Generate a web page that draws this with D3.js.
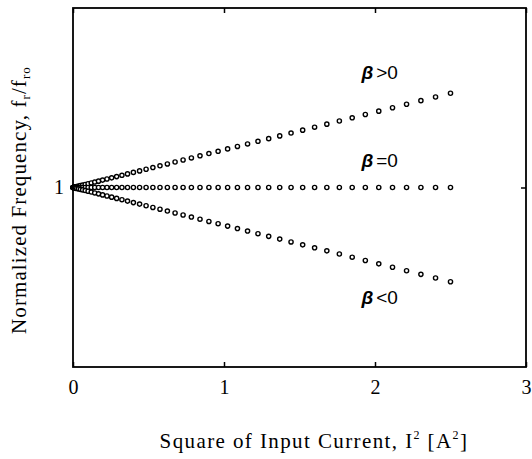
<!DOCTYPE html>
<html><head><meta charset="utf-8">
<script src="https://cdn.jsdelivr.net/npm/d3@7"></script>
<style>body{margin:0;background:#fff}svg{display:block}</style>
</head><body>
<script>
// Square of input current I^2 [A^2]
const xValues = [0, 0.001, 0.004, 0.009, 0.016, 0.025, 0.036, 0.049, 0.064, 0.081, 0.100, 0.121, 0.144, 0.169, 0.196, 0.225, 0.256, 0.289, 0.324, 0.361, 0.400, 0.441, 0.484, 0.529, 0.576, 0.625, 0.676, 0.729, 0.784, 0.841, 0.900, 0.961, 1.024, 1.089, 1.156, 1.225, 1.296, 1.369, 1.444, 1.521, 1.600, 1.681, 1.764, 1.849, 1.936, 2.025, 2.116, 2.209, 2.304, 2.401, 2.500];
const betaPos = [1, 1.00004, 1.00017, 1.00038, 1.00067, 1.00105, 1.00151, 1.00206, 1.00269, 1.00340, 1.00420, 1.00508, 1.00605, 1.00710, 1.00823, 1.00945, 1.01075, 1.01214, 1.01361, 1.01516, 1.01680, 1.01852, 1.02033, 1.02222, 1.02419, 1.02625, 1.02839, 1.03062, 1.03293, 1.03532, 1.03780, 1.04036, 1.04301, 1.04574, 1.04855, 1.05145, 1.05443, 1.05750, 1.06065, 1.06388, 1.06720, 1.07060, 1.07409, 1.07766, 1.08131, 1.08505, 1.08887, 1.09278, 1.09677, 1.10084, 1.10500];
const betaZero = [1, 1, 1, 1, 1, 1, 1, 1, 1, 1, 1, 1, 1, 1, 1, 1, 1, 1, 1, 1, 1, 1, 1, 1, 1, 1, 1, 1, 1, 1, 1, 1, 1, 1, 1, 1, 1, 1, 1, 1, 1, 1, 1, 1, 1, 1, 1, 1, 1, 1, 1];
const betaNeg = [1, 0.99996, 0.99983, 0.99962, 0.99933, 0.99895, 0.99849, 0.99794, 0.99731, 0.99660, 0.99580, 0.99492, 0.99395, 0.99290, 0.99177, 0.99055, 0.98925, 0.98786, 0.98639, 0.98484, 0.98320, 0.98148, 0.97967, 0.97778, 0.97581, 0.97375, 0.97161, 0.96938, 0.96707, 0.96468, 0.96220, 0.95964, 0.95699, 0.95426, 0.95145, 0.94855, 0.94557, 0.94250, 0.93935, 0.93612, 0.93280, 0.92940, 0.92591, 0.92234, 0.91869, 0.91495, 0.91113, 0.90722, 0.90323, 0.89916, 0.89500];
const xTicks = [0, 1, 2, 3];
const yTicks = [1];
const seriesLabels = [
  {name: "pos", op: ">0", at: [1.91, 1.121]},
  {name: "zero", op: "=0", at: [1.91, 1.023]},
  {name: "neg", op: "<0", at: [1.91, 0.8705]}
];

const W = 532, H = 459;
const L = 73, R = 526, T = 8, B = 367;
const svg = d3.select("body").append("svg").attr("width", W).attr("height", H);
const x = d3.scaleLinear().domain([0, 3]).range([L, R]);
const y = d3.scaleLinear().domain([0.8, 1.2]).range([B, T]);

// frame
svg.append("rect").attr("x", L).attr("y", T).attr("width", R - L).attr("height", B - T)
  .attr("fill", "none").attr("stroke", "#000").attr("stroke-width", 1.8);

// inward ticks
const tl = 5;
svg.append("g").attr("transform", `translate(0,${B})`)
  .call(d3.axisBottom(x).tickValues(xTicks).tickSize(-tl).tickSizeOuter(0).tickFormat(""))
  .call(g => { g.select(".domain").remove(); g.selectAll("line").attr("stroke-width", 1.5); });
svg.append("g").attr("transform", `translate(0,${T})`)
  .call(d3.axisTop(x).tickValues(xTicks).tickSize(-tl).tickSizeOuter(0).tickFormat(""))
  .call(g => { g.select(".domain").remove(); g.selectAll("line").attr("stroke-width", 1.5); });
svg.append("g").attr("transform", `translate(${R},0)`)
  .call(d3.axisRight(y).tickValues(yTicks).tickSize(-tl).tickSizeOuter(0).tickFormat(""))
  .call(g => { g.select(".domain").remove(); g.selectAll("line").attr("stroke-width", 1.5); });

// tick labels
svg.append("g").attr("transform", `translate(0,${B})`)
  .call(d3.axisBottom(x).tickValues(xTicks).tickSize(0).tickPadding(13).tickFormat(d3.format("d")))
  .call(g => { g.select(".domain").remove();
    g.selectAll("text").attr("font-family", "Liberation Serif").attr("font-size", 20).attr("fill", "#000"); });
svg.append("g").attr("transform", `translate(${L},0)`)
  .call(d3.axisLeft(y).tickValues(yTicks).tickSize(0).tickPadding(9).tickFormat(d3.format("d")))
  .call(g => { g.select(".domain").remove();
    g.selectAll("text").attr("font-family", "Liberation Serif").attr("font-size", 20).attr("fill", "#000"); });

// points
const series = [betaPos, betaZero, betaNeg];
series.forEach(vals => {
  svg.append("g").selectAll("circle").data(xValues.map((d, i) => [d, vals[i]])).join("circle")
    .attr("cx", d => x(d[0])).attr("cy", d => y(d[1])).attr("r", 2.1)
    .attr("fill", "#fff").attr("stroke", "#000").attr("stroke-width", 1.4);
});

// series labels
seriesLabels.forEach(s => {
  const t = svg.append("text").attr("x", x(s.at[0])).attr("y", y(s.at[1]))
    .attr("font-family", "Liberation Sans").attr("font-size", 19).attr("fill", "#000");
  t.append("tspan").attr("font-style", "italic").attr("font-weight", "bold").text("β");
  t.append("tspan").attr("dx", 3).text(s.op);
});

// axis titles
const xt = svg.append("text").attr("x", 314).attr("y", 448).attr("text-anchor", "middle")
  .attr("font-family", "Liberation Serif").attr("font-size", 21).attr("letter-spacing", 1.4).attr("fill", "#000");
xt.append("tspan").text("Square of Input Current, I");
xt.append("tspan").attr("font-size", 12).attr("dy", -9).text("2");
xt.append("tspan").attr("dy", 9).text(" [A");
xt.append("tspan").attr("font-size", 12).attr("dy", -9).text("2");
xt.append("tspan").attr("dy", 9).text("]");

const yt = svg.append("text").attr("transform", "translate(26,200) rotate(-90)").attr("text-anchor", "middle")
  .attr("font-family", "Liberation Serif").attr("font-size", 21).attr("letter-spacing", 1.1).attr("fill", "#000");
yt.append("tspan").text("Normalized Frequency, f");
yt.append("tspan").attr("font-size", 13).attr("dy", 4).text("r");
yt.append("tspan").attr("dy", -4).text("/f");
yt.append("tspan").attr("font-size", 13).attr("dy", 4).text("ro");
</script>
</body></html>
